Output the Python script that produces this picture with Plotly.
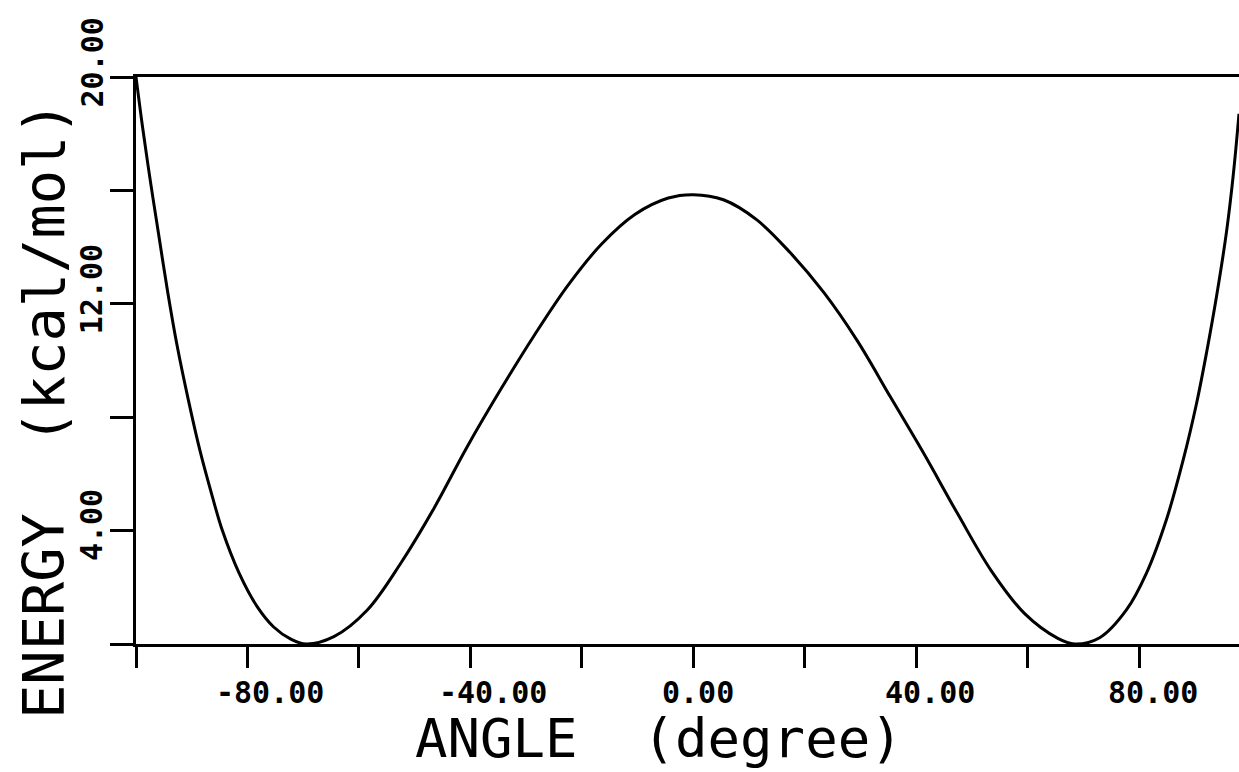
import plotly.graph_objects as go

# Data
angle = [-100.0, -98.8, -97.4, -95.9, -94.3, -92.6, -90.6, -88.5, -86.3, -84.5,
         -81.5, -78.2, -75.3, -72.3, -69.5, -64.5, -58.5, -52.5, -46.5, -40.6,
         -34.5, -28.5, -22.5, -16.5, -10.5, -4.5, 0.0, 5.4, 11.4, 17.4,
         23.4, 29.4, 35.4, 41.4, 47.4, 53.4, 59.4, 65.4, 68.4, 72.9,
         77.7, 81.3, 84.9, 87.9, 90.3, 92.1, 93.9, 95.7, 96.9, 97.9]
energy = [20.0, 18.2, 16.3, 14.4, 12.4, 10.5, 8.6, 6.8, 5.2, 4.0,
          2.5, 1.3, 0.6, 0.18, 0.0, 0.26, 1.2, 2.85, 4.8, 6.95,
          9.0, 10.9, 12.65, 14.1, 15.15, 15.73, 15.85, 15.67, 14.96, 13.8,
          12.4, 10.7, 8.7, 6.7, 4.6, 2.6, 1.08, 0.2, 0.0, 0.22,
          1.2, 2.5, 4.4, 6.5, 8.5, 10.3, 12.3, 14.6, 16.6, 18.7]

x_ticks = [-100, -80, -60, -40, -20, 0, 20, 40, 60, 80]
x_labels = {-80: "-80.00", -40: "-40.00", 0: "0.00", 40: "40.00", 80: "80.00"}
y_ticks = [0, 4, 8, 12, 16, 20]
y_labels = {4: "4.00", 12: "12.00", 20: "20.00"}

x_title = "ANGLE  (degree)"
y_title = "ENERGY  (kcal/mol)"

FONT = "DejaVu Sans Mono"

fig = go.Figure()
fig.add_trace(go.Scatter(x=angle, y=energy, mode="lines",
                         line=dict(color="black", width=3, shape="spline", smoothing=1.0),
                         showlegend=False, hoverinfo="skip"))

ann = []
for v, t in x_labels.items():
    ann.append(dict(x=v, xref="x", y=0, yref="paper", text=t, showarrow=False,
                    xanchor="left", yanchor="top", xshift=-33, yshift=-29,
                    font=dict(family=FONT, size=30, color="black", weight="bold")))
for v, t in y_labels.items():
    ann.append(dict(x=0, xref="paper", y=v, yref="y", text=t, showarrow=False,
                    textangle=-90, xanchor="right", yanchor="bottom",
                    xshift=-25, yshift=-33,
                    font=dict(family=FONT, size=30, color="black", weight="bold")))
ann.append(dict(x=(659 - 136) / 1103, xref="paper", y=0, yref="paper", text=x_title,
                showarrow=False, xanchor="center", yanchor="top", yshift=-61,
                font=dict(family=FONT, size=54, color="black")))
ann.append(dict(x=0, xref="paper", y=(644 - 410) / 567, yref="paper", text=y_title,
                showarrow=False, textangle=-90, xanchor="center", yanchor="middle",
                xshift=-92,
                font=dict(family=FONT, size=57, color="black")))

fig.update_layout(
    width=1239, height=772,
    margin=dict(l=136, r=0, t=77, b=128, autoexpand=False),
    paper_bgcolor="white", plot_bgcolor="white",
    annotations=ann,
    xaxis=dict(range=[-100, 97.9], tickvals=x_ticks, showticklabels=False,
               ticks="outside", ticklen=21, tickwidth=3, tickcolor="black",
               showline=True, linecolor="black", linewidth=3, mirror=True,
               showgrid=False, zeroline=False, fixedrange=True),
    yaxis=dict(range=[0, 20], tickvals=y_ticks, showticklabels=False,
               ticks="outside", ticklen=23, tickwidth=3, tickcolor="black",
               showline=True, linecolor="black", linewidth=3,
               showgrid=False, zeroline=False, fixedrange=True),
)

fig.write_html("out.html", config={"displayModeBar": False})
